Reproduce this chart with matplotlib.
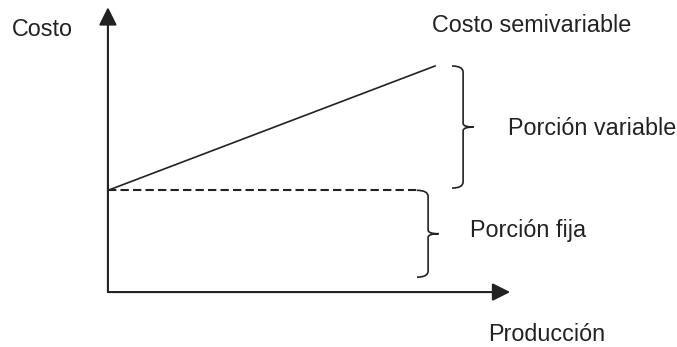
import matplotlib
matplotlib.use("Agg")
import matplotlib.pyplot as plt
from matplotlib.path import Path
from matplotlib.patches import PathPatch

# data (arbitrary units: produccion 0..100, costo 0..100)
produccion = [0, 100]
costo_fijo = [45, 45]
costo_semivariable = [45, 100]
eje_x_max = 123
eje_y_max = 126

etiquetas = {
    "Costo": (-29.4, 113.3),
    "Costo semivariable": (99.1, 115.0),
    "Porción variable": (122.3, 69.5),
    "Porción fija": (110.7, 24.3),
    "Producción": (116.2, -21.6),
}

INK = "#222222"


def brace(ax, x, y0, y1, hw=3.4, hh=2.7, tw=3.2, th=1.6, **kw):
    """Curly brace opening to the left, tip pointing right."""
    ym = (y0 + y1) / 2
    verts = [
        (x - hw, y1), (x, y1), (x, y1 - hh),
        (x, ym + th),
        (x, ym), (x + tw, ym),
        (x, ym), (x, ym - th),
        (x, y0 + hh),
        (x, y0), (x - hw, y0),
    ]
    codes = [
        Path.MOVETO, Path.CURVE3, Path.CURVE3,
        Path.LINETO,
        Path.CURVE3, Path.CURVE3,
        Path.CURVE3, Path.CURVE3,
        Path.LINETO,
        Path.CURVE3, Path.CURVE3,
    ]
    ax.add_patch(PathPatch(Path(verts, codes), fill=False, **kw))


fig = plt.figure(figsize=(6.77, 3.47), dpi=100)
ax = fig.add_axes([0, 0, 1, 1])
ax.set_xlim(-33.0, 174.0)
ax.set_ylim(-24.3, 129.2)
ax.axis("off")

# axes with arrows
arrow = dict(arrowstyle="-|>", mutation_scale=27, lw=1.5, color=INK,
             shrinkA=0, shrinkB=0)
ax.annotate("", xy=(0, eje_y_max), xytext=(0, 0), arrowprops=arrow)
ax.annotate("", xy=(eje_x_max, 0), xytext=(0, 0), arrowprops=arrow)

# semivariable cost line and fixed portion
ax.plot(produccion, costo_semivariable, color=INK, lw=1.2)
ax.plot([0, 94.5], costo_fijo, color=INK, lw=1.5, dashes=(4, 2))

# braces
brace(ax, 97.9, 6.6, costo_fijo[0], color=INK, lw=1.2)
brace(ax, 108.6, costo_fijo[0] + 1, costo_semivariable[-1], color=INK, lw=1.2)

for txt, (x, y) in etiquetas.items():
    ax.text(x, y, txt, ha="left", va="baseline", fontsize=16.8,
            family="Liberation Sans", color=INK)

fig.savefig("out.png", dpi=100)
